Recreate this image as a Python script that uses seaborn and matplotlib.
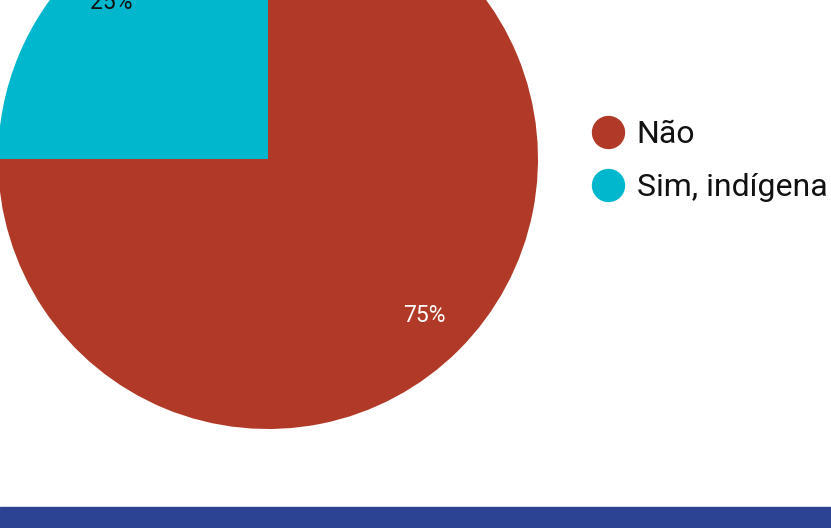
import matplotlib
matplotlib.use("Agg")
import matplotlib.pyplot as plt
from matplotlib.lines import Line2D
import seaborn as sns

categories = ["Não", "Sim, indígena"]
values = [75, 25]
colors = ["#B03A27", "#00B7CD"]
pct_colors = ["white", "#111111"]
band_color = "#2B4392"

sns.set_theme(style="white")
plt.rcParams["font.family"] = ["Roboto", "DejaVu Sans"]

W, H = 831, 528
fig = plt.figure(figsize=(W / 100, H / 100), dpi=100)
fig.patch.set_facecolor("white")
ax = fig.add_axes([0, 0, 1, 1])

wedges, texts, autotexts = ax.pie(
    values,
    colors=colors,
    startangle=90,
    counterclock=False,
    center=(268, H - 159),
    radius=270,
    autopct="%d%%",
    pctdistance=0.82,
    textprops=dict(fontsize=16.5),
    wedgeprops=dict(linewidth=0),
    frame=True,
)
for t, c in zip(autotexts, pct_colors):
    t.set_color(c)

ax.set_xlim(0, W)
ax.set_ylim(0, H)
ax.set_aspect("equal")
ax.axis("off")

ax.axhspan(0, 21, color=band_color, zorder=5)

handles = [
    Line2D([0], [0], marker="o", linestyle="none", markersize=23,
           markerfacecolor=c, markeredgecolor=c)
    for c in colors
]
leg = ax.legend(
    handles, categories,
    loc="upper left",
    bbox_to_anchor=(592 / W, 1 - 120 / H),
    frameon=False,
    fontsize=23,
    handlelength=1.0,
    handletextpad=0.4,
    labelspacing=0.76,
    borderpad=0,
    borderaxespad=0,
)
for t in leg.get_texts():
    t.set_color("#111111")

fig.savefig("out.png", dpi=100)
